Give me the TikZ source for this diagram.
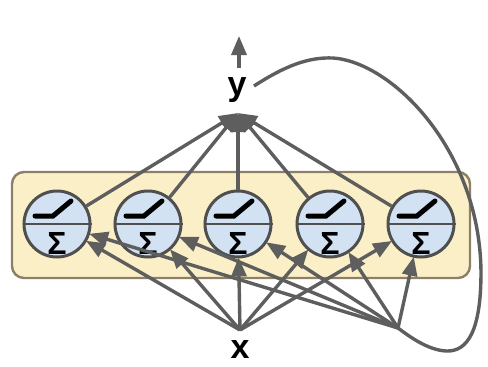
\documentclass[tikz,border=0pt]{standalone}
\usepackage{fontspec}
\setmainfont{Liberation Sans}
\usetikzlibrary{arrows.meta}
\definecolor{wire}{HTML}{5E5E5E}
\definecolor{layerfill}{HTML}{FBEFC8}
\definecolor{layerdraw}{HTML}{8C8068}
\definecolor{cellfill}{HTML}{D2E2F3}
\definecolor{celldraw}{HTML}{4F4F4F}
\begin{document}
\begin{tikzpicture}[x=1pt,y=-1pt,
  wirestyle/.style={draw=wire,line width=3.4pt},
  arr/.style={wirestyle,-{Triangle[length=19pt,width=15pt]}},
  cell/.style={circle,minimum size=66pt,inner sep=0pt,fill=cellfill,draw=celldraw,line width=3pt},
  lbl/.style={font=\fontsize{34}{34}\selectfont\bfseries,inner sep=0pt}]
\useasboundingbox (0,0) rectangle (488,367);
\fill[white] (0,0) rectangle (488,367);

% layer box
\draw[fill=layerfill,draw=layerdraw,line width=2.4pt,rounded corners=12pt]
  (12,172) rectangle (470,278);

% neurons
\foreach \i/\cx in {1/57,2/148,3/238,4/330,5/421}{
  \node[cell] (n\i) at (\cx,224) {};
  \draw[draw=celldraw,line width=2.4pt] (n\i.west) -- (n\i.east);
  \draw[line width=5pt,line cap=round] (\cx-22,216) -- (\cx-4,216) -- (\cx+14,201);
  \node[font=\fontsize{32}{32}\selectfont\bfseries,inner sep=0pt] at (\cx,243) {Σ};
}

% labels and fan points
\node[lbl] (y) at (237,90) {y};
\node[lbl] (x) at (240,350) {x};
\coordinate (yin) at (238,113);
\coordinate (xs) at (240,330);
\coordinate (hs) at (398,328);
\coordinate (yout) at (239,36);
\coordinate (ytop) at (239,68);

% output arrow
\draw[arr] (ytop) -- (yout);

% neurons to output
\foreach \i in {1,...,5}{
  \draw[arr] (n\i) -- (yin);
}

% inputs and feedback to neurons
\foreach \i in {1,...,5}{
  \draw[arr,shorten >=-1pt] (xs) -- (n\i);
  \draw[arr,shorten >=-1pt] (hs) -- (n\i);
}

% recurrent loop from output back to the layer
\draw[wirestyle] (254,86) .. controls (285,66) and (308,57) .. (333,58)
  .. controls (392,62) and (480,150) .. (481,272)
  .. controls (481,330) and (468,352) .. (446,351)
  .. controls (428,350) and (410,337) .. (hs);
\end{tikzpicture}
\end{document}
